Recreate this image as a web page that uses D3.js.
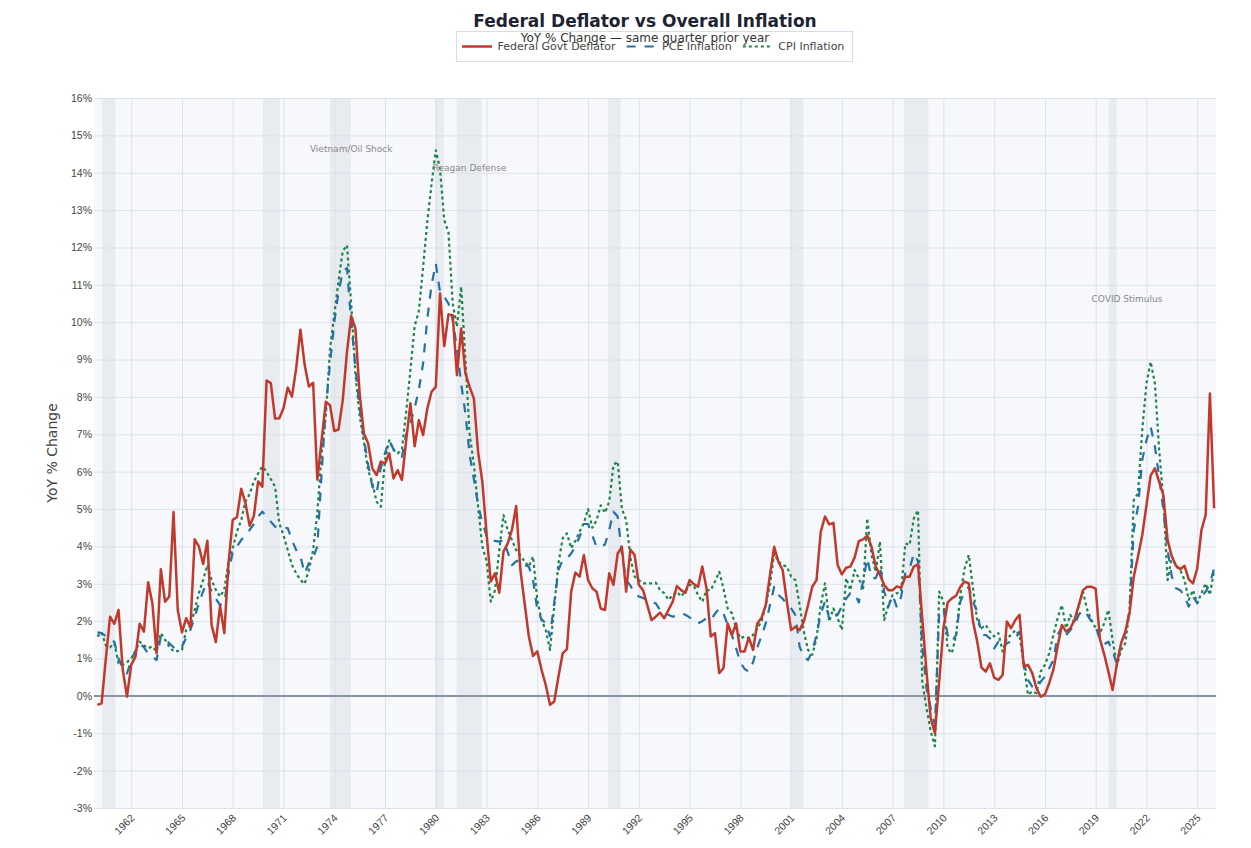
<!DOCTYPE html>
<html>
<head>
<meta charset="utf-8">
<script src="https://cdn.jsdelivr.net/npm/d3@7"></script>
<style>
  body { margin: 0; background: #ffffff; font-family: "DejaVu Sans", Verdana, sans-serif; }
  #wrapper svg { display: block; }
</style>
</head>
<body>
<div id="wrapper"></div>
<script>
// quarterly YoY % change, first value = 1960 Q1, one row per year
const startYear = 1960;

const federalDeflator = [
  -0.24, -0.2, 1.0, 2.12,
  1.93, 2.3, 0.7, -0.02,
  0.83, 1.05, 1.93, 1.72,
  3.04, 2.48, 1.14, 3.39,
  2.52, 2.66, 4.92, 2.3,
  1.7, 2.08, 1.84, 4.19,
  4.0, 3.53, 4.15, 1.9,
  1.44, 2.41, 1.68, 3.55,
  4.71, 4.78, 5.54, 5.16,
  4.55, 4.82, 5.74, 5.6,
  8.44, 8.37, 7.42, 7.43,
  7.7, 8.25, 8.01, 8.77,
  9.8, 8.86, 8.28, 8.38,
  5.79, 6.84, 7.87, 7.78,
  7.09, 7.13, 7.91, 9.2,
  10.17, 9.83, 8.09, 7.02,
  6.76, 6.09, 5.91, 6.27,
  6.22, 6.49, 5.82, 6.04,
  5.78, 6.84, 7.83, 6.68,
  7.38, 6.98, 7.69, 8.14,
  8.27, 10.77, 9.36, 10.21,
  10.19, 8.58, 9.83, 8.63,
  8.27, 7.96, 6.53, 5.73,
  4.35, 3.06, 3.28, 2.76,
  3.86, 4.08, 4.44, 5.08,
  3.37, 2.48, 1.59, 1.07,
  1.19, 0.7, 0.29, -0.24,
  -0.15, 0.52, 1.14, 1.25,
  2.79, 3.3, 3.19, 3.77,
  3.1, 2.88, 2.79, 2.34,
  2.3, 3.28, 2.97, 3.81,
  3.99, 2.79, 3.92, 3.77,
  2.97, 2.83, 2.43, 2.03,
  2.12, 2.23, 2.08, 2.3,
  2.52, 2.94, 2.83, 2.76,
  3.1, 2.99, 2.92, 3.46,
  2.88, 1.59, 1.68, 0.61,
  0.74, 1.94, 1.63, 1.94,
  1.19, 1.19, 1.56, 1.23,
  1.94, 2.09, 2.43, 3.24,
  3.99, 3.59, 3.37, 2.52,
  1.76, 1.85, 1.76, 1.99,
  2.43, 2.92, 3.1, 4.39,
  4.8, 4.59, 4.63, 3.5,
  3.25, 3.43, 3.46, 3.7,
  4.14, 4.19, 4.29, 3.99,
  3.46, 3.24, 2.97, 2.83,
  2.83, 2.93, 2.89, 3.19,
  3.19, 3.46, 3.52, 2.08,
  0.65, -0.6, -1.0, 0.38,
  1.81, 2.5, 2.61, 2.68,
  2.92, 3.06, 3.01, 1.99,
  1.45, 0.76, 0.65, 0.87,
  0.49, 0.43, 0.56, 1.99,
  1.81, 2.03, 2.17, 0.78,
  0.83, 0.61, 0.2, -0.02,
  0.04, 0.34, 0.7, 1.32,
  1.9, 1.72, 1.81, 2.03,
  2.43, 2.83, 2.92, 2.92,
  2.87, 1.52, 1.12, 0.65,
  0.16, 0.85, 1.41, 1.72,
  2.21, 3.19, 3.73, 4.3,
  5.1, 5.9, 6.09, 5.73,
  5.37, 4.17, 3.73, 3.48,
  3.39, 3.48, 3.12, 3.01,
  3.41, 4.44, 4.84, 8.09,
  5.02
];

const pceInflation = [
  1.7, 1.68, 1.6, 1.5,
  1.45, 1.0, 0.75, 0.6,
  0.96, 1.2, 1.41, 1.3,
  1.14, 1.05, 0.96, 1.59,
  1.5, 1.41, 1.3, 1.23,
  1.32, 1.55, 1.77, 2.1,
  2.48, 2.8, 3.06, 2.8,
  2.6, 2.43, 2.48, 3.28,
  3.86, 4.0, 4.17, 4.3,
  4.44, 4.6, 4.8, 4.93,
  4.8, 4.66, 4.53, 4.5,
  4.5, 4.49, 4.17, 3.9,
  3.73, 3.28, 3.55, 3.7,
  4.0, 5.95, 7.7, 8.9,
  10.0, 10.8, 11.35, 11.45,
  10.0, 8.8, 7.7, 6.9,
  6.2, 5.6, 5.42, 6.1,
  6.5, 6.84, 6.6, 6.45,
  6.4, 7.0, 7.3, 7.7,
  8.2, 8.9, 10.1, 11.0,
  11.57, 10.8, 10.68, 10.5,
  10.05, 9.3, 8.36, 7.56,
  6.45, 5.8, 5.1, 4.65,
  4.28, 4.15, 4.15, 4.13,
  4.17, 3.85, 3.5, 3.6,
  3.64, 3.5, 3.46, 3.1,
  2.3, 2.05, 1.94, 1.6,
  2.5, 3.37, 3.64, 3.68,
  3.81, 4.0, 4.26, 4.6,
  4.6, 4.3, 3.99, 3.99,
  4.05, 4.44, 4.93, 4.8,
  3.81, 3.1, 2.95, 2.75,
  2.66, 2.62, 2.57, 2.5,
  2.48, 2.3, 2.2, 2.17,
  2.12, 2.15, 2.21, 2.17,
  2.1, 2.05, 1.94, 2.0,
  2.08, 2.03, 2.2, 2.34,
  2.21, 1.9, 1.63, 1.27,
  0.9, 0.72, 0.65, 0.9,
  1.3, 1.6, 1.94, 2.43,
  2.92, 2.7, 2.6, 2.45,
  2.34, 2.17, 1.32, 1.05,
  0.96, 1.2, 1.63, 2.2,
  2.52, 2.08, 2.21, 2.17,
  2.4, 2.6, 2.75, 2.75,
  2.5, 3.06, 3.68, 3.15,
  3.15, 3.46, 2.8, 2.39,
  2.7, 2.37, 2.65, 3.3,
  3.4, 3.81, 3.6, 1.36,
  0.2, -0.33, -0.78, 2.2,
  2.34, 1.63, 1.45, 1.63,
  2.52, 2.79, 2.92, 2.52,
  2.25, 1.63, 1.63, 1.54,
  1.27, 1.45, 1.27, 1.41,
  1.45, 1.54, 1.72, 0.92,
  0.43, 0.25, 0.2, 0.38,
  0.52, 0.74, 0.96, 1.63,
  1.85, 1.63, 1.76, 1.9,
  2.17, 2.3, 2.17, 1.99,
  1.85, 1.5, 1.38, 1.45,
  1.2, 0.85, 1.41, 1.68,
  2.3, 4.44, 5.06, 6.31,
  6.84, 7.2, 6.67, 5.86,
  4.97, 3.9, 3.19, 2.88,
  2.83, 2.66, 2.39, 2.66,
  2.48, 2.66, 2.79, 3.01,
  3.41
];

const cpiInflation = [
  1.59, 1.7, 1.35, 1.3,
  1.41, 0.87, 0.83, 0.9,
  1.0, 1.2, 1.45, 1.35,
  1.28, 1.32, 1.19, 1.68,
  1.5, 1.32, 1.19, 1.2,
  1.23, 1.77, 1.86, 2.3,
  2.75, 3.1, 3.5, 3.1,
  2.84, 2.66, 2.84, 3.6,
  3.95, 4.4, 4.7, 5.2,
  5.4, 5.74, 5.95, 6.14,
  6.0, 5.8, 5.6, 4.62,
  4.3, 3.9, 3.5, 3.28,
  3.1, 3.0, 3.37, 3.9,
  4.9, 6.5, 7.5, 9.3,
  10.2, 11.1, 11.9, 12.06,
  10.5, 8.6, 7.5, 6.8,
  6.04, 5.7, 5.2, 5.06,
  6.31, 6.84, 6.58, 6.49,
  6.6, 7.6, 8.72, 9.9,
  10.3, 11.48, 12.7, 13.7,
  14.6, 14.1, 12.73, 12.4,
  10.5, 9.88, 10.95, 9.0,
  7.0, 6.2, 5.06, 4.0,
  3.6, 2.52, 2.83, 3.9,
  4.84, 4.44, 4.17, 3.9,
  3.75, 3.6, 3.46, 3.73,
  2.57, 2.03, 1.76, 1.23,
  2.39, 3.55, 4.22, 4.35,
  3.95, 4.15, 4.4, 4.62,
  5.0, 4.5, 4.7, 5.1,
  4.9, 5.2, 6.18, 6.27,
  5.0, 4.71, 3.7, 3.19,
  3.1, 3.01, 3.01, 3.01,
  3.03, 2.83, 2.75, 2.57,
  2.7, 2.79, 2.66, 2.8,
  2.97, 2.95, 2.7, 2.52,
  2.83, 2.83, 3.06, 3.32,
  2.88, 2.34, 2.21, 1.81,
  1.54, 1.59, 1.54, 1.63,
  1.81, 1.99, 2.43, 2.97,
  3.81, 3.59, 3.5, 3.46,
  3.19, 3.1, 2.43, 1.72,
  1.23, 1.1, 1.54, 2.43,
  3.01, 1.99, 2.34, 2.08,
  1.76, 3.15, 2.83, 3.37,
  3.15, 2.83, 4.75, 3.77,
  3.32, 4.13, 2.03, 2.43,
  2.7, 2.75, 2.8, 4.08,
  4.04, 4.75, 4.97, 0.38,
  -0.33, -0.95, -1.35, 2.79,
  2.52, 1.27, 1.14, 1.63,
  2.7, 3.41, 3.77, 2.88,
  1.99, 1.81, 1.9, 1.72,
  1.59, 1.68, 1.19, 1.54,
  1.63, 1.76, 1.63, 0.83,
  0.03, 0.12, 0.07, 0.65,
  0.83, 1.14, 1.63, 2.08,
  2.43, 1.81, 2.17, 1.94,
  2.43, 2.79, 2.3, 2.03,
  1.81, 1.68, 1.94, 2.3,
  1.5, 0.8, 1.23, 1.41,
  2.3, 5.24, 5.42, 7.11,
  8.36, 8.94, 8.36, 6.58,
  5.24, 3.1, 3.73, 3.46,
  3.37, 3.1, 2.57, 2.83,
  2.48, 2.75, 3.01, 2.7,
  3.37
];

// recession periods (decimal years)
const recessions = [
  [1960.28, 1961.06], [1969.78, 1970.78], [1973.74, 1974.98],
  [1979.95, 1980.47], [1981.23, 1982.71], [1990.19, 1990.93],
  [2000.92, 2001.72], [2007.66, 2009.11], [2019.78, 2020.25]
];

const annotations = [
  { label: "Vietnam/Oil Shock", year: 1975.0, value: 14.55 },
  { label: "Reagan Defense", year: 1982.0, value: 14.05 },
  { label: "COVID Stimulus", year: 2020.85, value: 10.55 }
];

const xTickYears = d3.range(1962, 2026, 3);
const yTickValues = d3.range(-3, 17, 1);

const seriesNames = ["Federal Govt Deflator", "PCE Inflation", "CPI Inflation"];

function drawChart() {

  // 1. Build dataset

  const seriesValues = [federalDeflator, pceInflation, cpiInflation];
  const seriesStyles = [
    { color: "#c0392b", width: 2.5, dash: null },
    { color: "#2471a3", width: 2.2, dash: "9,9" },
    { color: "#1e8449", width: 2.2, dash: "3,3" }
  ];
  const dataset = seriesNames.map((name, i) => ({
    name: name,
    style: seriesStyles[i],
    values: seriesValues[i].map((v, q) => ({ year: startYear + q / 4, value: v }))
  }));

  const xAccessor = d => d.year;
  const yAccessor = d => d.value;

  // 2. Dimensions

  let dimensions = {
    width: 1251,
    height: 848,
    margin: { top: 98, right: 35, bottom: 40, left: 94 }
  };
  dimensions.boundedWidth = dimensions.width - dimensions.margin.left - dimensions.margin.right;
  dimensions.boundedHeight = dimensions.height - dimensions.margin.top - dimensions.margin.bottom;

  // 3. Canvas

  const wrapper = d3.select("#wrapper")
    .append("svg")
    .attr("width", dimensions.width)
    .attr("height", dimensions.height)
    .style("font-family", "'DejaVu Sans', Verdana, sans-serif");

  const bounds = wrapper.append("g")
    .attr("transform", `translate(${dimensions.margin.left},${dimensions.margin.top})`);

  // 4. Scales

  const xScale = d3.scaleLinear()
    .domain([1959.8, 2026.11])
    .range([0, dimensions.boundedWidth]);

  const yScale = d3.scaleLinear()
    .domain([-3, 16])
    .range([dimensions.boundedHeight, 0]);

  // 5. Background, recessions, grid

  bounds.append("rect")
    .attr("width", dimensions.boundedWidth)
    .attr("height", dimensions.boundedHeight)
    .attr("fill", "#f7f8fc");

  bounds.append("g")
    .selectAll("rect")
    .data(recessions)
    .join("rect")
    .attr("x", d => xScale(d[0]))
    .attr("width", d => xScale(d[1]) - xScale(d[0]))
    .attr("y", 0)
    .attr("height", dimensions.boundedHeight)
    .attr("fill", "#e8ebf0");

  const yAxisGenerator = d3.axisLeft(yScale)
    .tickValues(yTickValues)
    .tickSize(-dimensions.boundedWidth)
    .tickPadding(3)
    .tickFormat(d => d + "%");

  const yAxis = bounds.append("g")
    .attr("class", "y-axis")
    .call(yAxisGenerator);
  yAxis.select(".domain").remove();
  yAxis.selectAll("line").attr("stroke", "#dde1ea").attr("stroke-width", 1);
  yAxis.selectAll("text")
    .attr("fill", "#444")
    .attr("font-size", 10.5)
    .attr("x", -2);

  const xAxisGenerator = d3.axisBottom(xScale)
    .tickValues(xTickYears)
    .tickSize(-dimensions.boundedHeight)
    .tickFormat(d3.format("d"));

  const xAxis = bounds.append("g")
    .attr("class", "x-axis")
    .attr("transform", `translate(0,${dimensions.boundedHeight})`)
    .call(xAxisGenerator);
  xAxis.select(".domain").remove();
  xAxis.selectAll("line").attr("stroke", "#dde1ea").attr("stroke-width", 1);
  xAxis.selectAll("text")
    .attr("fill", "#444")
    .attr("font-size", 10.5)
    .attr("text-anchor", "end")
    .attr("x", 0)
    .attr("y", 0)
    .attr("dy", "0.35em")
    .attr("transform", "translate(1,8) rotate(-45)");

  // zero line
  bounds.append("line")
    .attr("x1", 0)
    .attr("x2", dimensions.boundedWidth)
    .attr("y1", yScale(0))
    .attr("y2", yScale(0))
    .attr("stroke", "#8795a3")
    .attr("stroke-width", 2);

  // 6. Lines

  const lineGenerator = d3.line()
    .x(d => xScale(xAccessor(d)))
    .y(d => yScale(yAccessor(d)));

  // red drawn last so it sits on top
  const drawOrder = [dataset[2], dataset[1], dataset[0]];

  bounds.append("g")
    .selectAll("path")
    .data(drawOrder)
    .join("path")
    .attr("d", d => lineGenerator(d.values))
    .attr("fill", "none")
    .attr("stroke", d => d.style.color)
    .attr("stroke-width", d => d.style.width)
    .attr("stroke-dasharray", d => d.style.dash)
    .attr("stroke-linejoin", "round");

  // annotations
  bounds.append("g")
    .selectAll("text")
    .data(annotations)
    .join("text")
    .attr("x", d => xScale(d.year))
    .attr("y", d => yScale(d.value))
    .attr("text-anchor", "middle")
    .attr("font-size", 9)
    .attr("fill", "#888")
    .text(d => d.label);

  // 7. Peripherals

  const yTitleY = dimensions.margin.top + dimensions.boundedHeight / 2;
  wrapper.append("text")
    .attr("x", 52)
    .attr("y", yTitleY)
    .attr("transform", `rotate(-90, 52, ${yTitleY})`)
    .attr("text-anchor", "middle")
    .attr("dy", "0.35em")
    .attr("font-size", 14)
    .attr("fill", "#444")
    .text("YoY % Change");

  wrapper.append("text")
    .attr("x", 645)
    .attr("y", 27)
    .attr("text-anchor", "middle")
    .attr("font-size", 17)
    .attr("font-weight", "bold")
    .attr("fill", "#1c2331")
    .text("Federal Deflator vs Overall Inflation");

  // legend
  const legend = wrapper.append("g");
  legend.append("rect")
    .attr("x", 456.5)
    .attr("y", 31.5)
    .attr("width", 396)
    .attr("height", 30)
    .attr("fill", "#ffffff")
    .attr("stroke", "#d8dcea")
    .attr("stroke-width", 1);

  let legendX = 462;
  dataset.forEach(s => {
    legend.append("line")
      .attr("x1", legendX)
      .attr("x2", legendX + 30)
      .attr("y1", 46.5)
      .attr("y2", 46.5)
      .attr("stroke", s.style.color)
      .attr("stroke-width", s.style.width)
      .attr("stroke-dasharray", s.style.dash);
    const label = legend.append("text")
      .attr("x", legendX + 35.5)
      .attr("y", 46.5)
      .attr("dy", "0.35em")
      .attr("font-size", 11)
      .attr("fill", "#444")
      .text(s.name);
    legendX += 35.5 + label.node().getComputedTextLength() + 11;
  });

  wrapper.append("text")
    .attr("x", 645)
    .attr("y", 42)
    .attr("text-anchor", "middle")
    .attr("font-size", 12)
    .attr("fill", "#333")
    .text("YoY % Change \u2014 same quarter prior year");
}

drawChart();
</script>
</body>
</html>
